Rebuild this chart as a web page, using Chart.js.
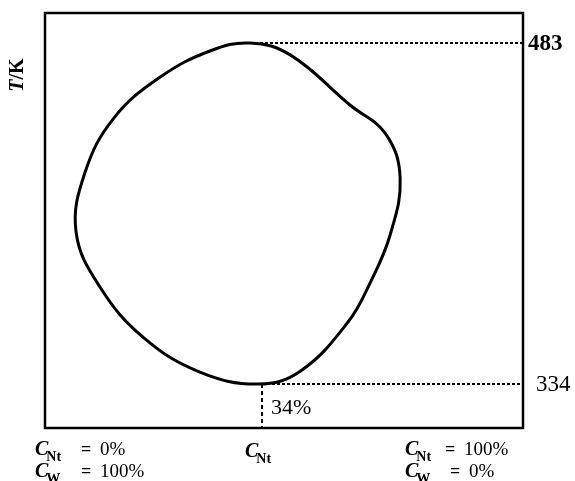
<!DOCTYPE html>
<html>
<head>
<meta charset="utf-8">
<script src="https://cdn.jsdelivr.net/npm/chart.js@4.4.1/dist/chart.umd.min.js"></script>
<style>
  html, body { margin: 0; padding: 0; background: #fff; }
  #wrap { width: 575px; height: 481px; }
</style>
</head>
<body>
<div id="wrap"><canvas id="chart"></canvas></div>
<script>
// closed solubility loop, read clockwise from the lower right side (C_Nt in diagram units, T in K)
var loopX = [63.4, 53.4, 44.6, 32.4, 20.5, 11.5, 6.5, 8.4, 14.4, 24.1, 34.5, 42.9, 51.3, 63.8, 71.3, 74.3, 72.2, 68.0];
var loopT = [361.1, 339.6, 334.0, 339.2, 354.5, 376.4, 400.4, 426.6, 450.2, 468.1, 479.5, 483.0, 477.8, 455.9, 443.2, 424.0, 399.1, 378.1];

var upperT = 483;       // upper critical temperature
var lowerT = 334;       // lower critical temperature
var upperX = 42.9;
var lowerX = 45.4;
var lowerLabel = '34%';
var tempTicks = ['483', '334'];

var xMin = 0, xMax = 100;
var tMin = 314.8, tMax = 496.1;

function pts(xs, ys) {
    return xs.map(function (x, i) { return { x: x, y: ys[i] }; });
}

var SERIF = '"Liberation Serif", "DejaVu Serif", serif';

// let the first dataset close on itself like a radar line, so the spline has no seam
var closeLoop = {
    id: 'closeLoop',
    afterDatasetsUpdate: function (chart) {
        var line = chart.getDatasetMeta(0).dataset;
        line._loop = true;
        line._fullLoop = true;
    }
};

var framePlugin = {
    id: 'frame',
    afterDraw: function (chart) {
        var c = chart.ctx, a = chart.chartArea;
        var sx = chart.scales.x, sy = chart.scales.y;
        c.save();
        c.strokeStyle = '#000';
        c.lineWidth = 2.5;
        c.strokeRect(a.left, a.top, a.right - a.left, a.bottom - a.top);

        c.fillStyle = '#000';
        c.textBaseline = 'middle';
        c.textAlign = 'left';
        c.font = 'bold 23px ' + SERIF;
        c.fillText(tempTicks[0], sx.getPixelForValue(xMax) + 5, sy.getPixelForValue(upperT) + 1);
        c.font = '23px ' + SERIF;
        c.fillText(tempTicks[1], sx.getPixelForValue(xMax) + 13, sy.getPixelForValue(lowerT) + 1);
        c.font = '22px ' + SERIF;
        c.fillText(lowerLabel, sx.getPixelForValue(lowerX) + 9, sy.getPixelForValue(lowerT) + 24);

        // y axis title
        c.save();
        c.translate(18, 75);
        c.rotate(-Math.PI / 2);
        c.font = 'bold italic 20px ' + SERIF;
        var tw = c.measureText('T').width;
        c.font = 'bold 20px ' + SERIF;
        var kw = c.measureText('/K').width;
        c.font = 'bold italic 20px ' + SERIF;
        c.fillText('T', -(tw + kw) / 2, 0);
        c.font = 'bold 20px ' + SERIF;
        c.fillText('/K', -(tw + kw) / 2 + tw, 0);
        c.restore();

        function sub(x, y, s, eqX, rest) {
            c.textBaseline = 'alphabetic';
            c.font = 'bold italic 20px ' + SERIF;
            c.fillText('C', x, y);
            var w = c.measureText('C').width;
            c.font = 'bold 14px ' + SERIF;
            c.fillText(s, x + w - 2, y + 6);
            if (rest) {
                c.font = 'bold 18px ' + SERIF;
                c.fillText('=', x + eqX, y);
                c.font = '19px ' + SERIF;
                c.fillText(rest, x + eqX + 19, y);
            }
        }
        sub(35, 455, 'Nt', 46, '0%');
        sub(35, 477, 'W', 46, '100%');
        sub(245, 457, 'Nt', 0, '');
        sub(405, 455, 'Nt', 40, '100%');
        sub(405, 477, 'W', 45, '0%');
        c.restore();
    }
};

new Chart(document.getElementById('chart'), {
    type: 'scatter',
    data: {
        datasets: [{
            data: pts(loopX, loopT),
            showLine: true,
            borderColor: '#000',
            borderWidth: 3,
            tension: 0.4,
            pointRadius: 0
        }, {
            data: pts([upperX, xMax], [upperT, upperT]),
            showLine: true,
            borderColor: '#000',
            borderWidth: 2,
            borderDash: [3, 2],
            pointRadius: 0
        }, {
            data: pts([lowerX, xMax], [lowerT, lowerT]),
            showLine: true,
            borderColor: '#000',
            borderWidth: 2,
            borderDash: [3, 2],
            pointRadius: 0
        }, {
            data: pts([lowerX, lowerX], [lowerT, tMin]),
            showLine: true,
            borderColor: '#000',
            borderWidth: 2,
            borderDash: [4, 3],
            pointRadius: 0
        }]
    },
    options: {
        responsive: true,
        maintainAspectRatio: false,
        animation: false,
        layout: { padding: { left: 45, right: 52, top: 13, bottom: 53 } },
        plugins: { legend: { display: false }, tooltip: { enabled: false } },
        scales: {
            x: { type: 'linear', min: xMin, max: xMax, display: false },
            y: { type: 'linear', min: tMin, max: tMax, display: false }
        }
    },
    plugins: [closeLoop, framePlugin]
});
</script>
</body>
</html>
